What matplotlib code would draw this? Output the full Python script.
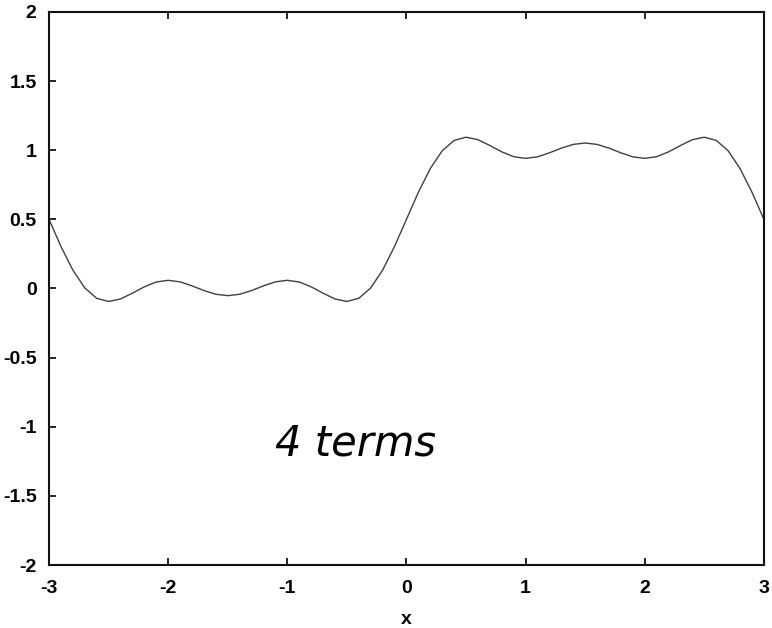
import matplotlib
matplotlib.use("Agg")
import matplotlib.pyplot as plt

x_vals = [round(-3 + 0.1 * i, 1) for i in range(61)]
y_pos = [0.500, 0.696, 0.867, 0.996, 1.071, 1.094, 1.076, 1.034, 0.988, 0.953,
         0.941, 0.952, 0.981, 1.015, 1.042, 1.052, 1.042, 1.015, 0.981, 0.952,
         0.941, 0.953, 0.988, 1.034, 1.076, 1.094, 1.071, 0.996, 0.867, 0.696,
         0.500]
y_neg = [0.500, 0.304, 0.133, 0.004, -0.071, -0.094, -0.076, -0.034, 0.012, 0.047,
         0.059, 0.048, 0.019, -0.015, -0.042, -0.052, -0.042, -0.015, 0.019, 0.048,
         0.059, 0.047, 0.012, -0.034, -0.076, -0.094, -0.071, 0.004, 0.133, 0.304]
y_vals = y_neg + y_pos

x_ticks = [-3, -2, -1, 0, 1, 2, 3]
y_ticks = [-2, -1.5, -1, -0.5, 0, 0.5, 1, 1.5, 2]
y_ticklabels = ["-2", "-1.5", "-1", "-0.5", "0", "0.5", "1", "1.5", "2"]
annotation = "4 terms"

plt.rcParams["font.family"] = ["Liberation Sans", "DejaVu Sans"]

fig = plt.figure(figsize=(7.72, 6.28), dpi=100)
ax = fig.add_axes([0.0635, 0.1003, 0.926, 0.8807])
ax.plot(x_vals, y_vals, color="#404040", linewidth=1.0, solid_joinstyle="round")
ax.set_xlim(-3, 3)
ax.set_ylim(-2, 2)
ax.set_xticks(x_ticks)
ax.set_xticklabels([str(t) for t in x_ticks], fontweight="bold")
ax.set_yticks(y_ticks)
ax.set_yticklabels(y_ticklabels, fontweight="bold")
ax.tick_params(direction="in", top=True, right=False, length=5, width=1.2,
               labelsize=14)
ax.tick_params(axis="x", pad=11)
ax.tick_params(axis="y", pad=9)
for s in ax.spines.values():
    s.set_linewidth(1.5)
    s.set_color("#111111")
ax.set_xlabel("x", fontsize=14, fontweight="bold", labelpad=10)
ax.text(-1.1, -1.12, annotation, fontsize=30, style="italic",
        family=["DejaVu Sans"], color="black", ha="left", va="center")
fig.savefig("out.png", dpi=100)
